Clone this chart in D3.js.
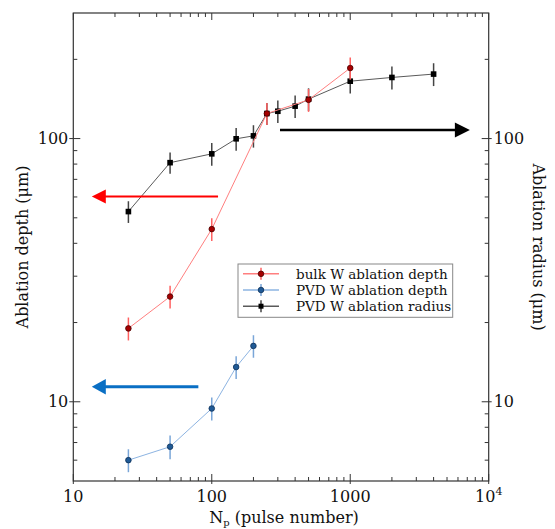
<!DOCTYPE html>
<html>
<head>
<meta charset="utf-8">
<script src="https://cdn.jsdelivr.net/npm/d3@7"></script>
<style>
  html, body { margin: 0; padding: 0; background: #fff; }
  svg { display: block; }
  text { font-family: "DejaVu Serif", serif; fill: #111; }
</style>
</head>
<body>
<div id="chart"></div>
<script>
// ---------- data ----------
const bulkX = [25, 50, 100, 250, 500, 1000];
const bulkDepth = [19.0, 25.1, 45.3, 124.5, 140.3, 185.4];
const bulkErr = [1.9, 2.5, 4.5, 12, 14, 18];

const pvdX = [25, 50, 100, 150, 200];
const pvdDepth = [6.0, 6.75, 9.43, 13.55, 16.3];
const pvdErr = [0.6, 0.7, 0.95, 1.35, 1.6];

const radX = [25, 50, 100, 150, 200, 250, 300, 400, 500, 1000, 2000, 4000];
const radius = [52.8, 81, 87.5, 99.8, 102.4, 124.5, 127, 132.8, 141.2, 165.2, 170.7, 175.8];
const radErr = [5, 7.5, 8.6, 10, 10, 12, 12.5, 13, 14, 17, 17, 17.5];

const legendLabels = ["bulk W ablation depth", "PVD W ablation depth", "PVD W ablation radius"];
const xTickValues = [10, 100, 1000, 10000];
const yTickValues = [10, 100];

// arrows: [x0, x1, y] in data units (start -> tip)
const arrowRed = [111, 13.6, 60.2];
const arrowBlue = [80, 13.6, 11.4];
const arrowBlack = [311, 7310, 107.9];

// ---------- layout ----------
const W = 555, H = 529;
const margin = { left: 73.3, right: 66.3, top: 13, bottom: 48 };
const x = d3.scaleLog().domain([10, 10000]).range([margin.left, W - margin.right]);
const y = d3.scaleLog().domain([5, 300]).range([H - margin.bottom, margin.top]);
const y2 = d3.scaleLog().domain([5, 300]).range([H - margin.bottom, margin.top]);

const svg = d3.select("#chart").append("svg").attr("width", W).attr("height", H);

const x0 = margin.left, x1 = W - margin.right, yT = margin.top, yB = H - margin.bottom;

// minor ticks
const xMinor = [];
for (let d = 10; d < 10000; d *= 10) for (let k = 2; k <= 9; k++) xMinor.push(d * k);
const yMinor = [];
for (let d = 1; d < 1000; d *= 10) for (let k = 2; k <= 9; k++) { const v = d * k; if (v > 5 && v < 300) yMinor.push(v); }

const tickCol = "#333";
const tg = svg.append("g").attr("stroke", tickCol).attr("stroke-width", 1);
xMinor.forEach(v => {
  tg.append("line").attr("x1", x(v)).attr("x2", x(v)).attr("y1", yB).attr("y2", yB - 4);
  tg.append("line").attr("x1", x(v)).attr("x2", x(v)).attr("y1", yT).attr("y2", yT + 4);
});
xTickValues.forEach(v => {
  tg.append("line").attr("x1", x(v)).attr("x2", x(v)).attr("y1", yB + 3).attr("y2", yB - 7);
  tg.append("line").attr("x1", x(v)).attr("x2", x(v)).attr("y1", yT).attr("y2", yT + 7);
});
yMinor.forEach(v => {
  tg.append("line").attr("x1", x0).attr("x2", x0 + 4).attr("y1", y(v)).attr("y2", y(v));
  tg.append("line").attr("x1", x1).attr("x2", x1 - 4).attr("y1", y2(v)).attr("y2", y2(v));
});
yTickValues.forEach(v => {
  tg.append("line").attr("x1", x0 - 4).attr("x2", x0 + 7).attr("y1", y(v)).attr("y2", y(v));
  tg.append("line").attr("x1", x1 + 3).attr("x2", x1 - 7).attr("y1", y2(v)).attr("y2", y2(v));
});

// frame
svg.append("rect").attr("x", x0).attr("y", yT).attr("width", x1 - x0).attr("height", yB - yT)
  .attr("fill", "none").attr("stroke", tickCol).attr("stroke-width", 1.2);

// tick labels
const fs = 16;
xTickValues.forEach(v => {
  const t = svg.append("text").attr("x", x(v)).attr("y", yB + 21).attr("text-anchor", "middle").attr("font-size", fs);
  if (v === 10000) {
    t.append("tspan").text("10");
    t.append("tspan").attr("dy", -7).attr("font-size", 11).text("4");
  } else t.text(d3.format("d")(v));
});
yTickValues.forEach(v => {
  svg.append("text").attr("x", x0 - 5).attr("y", y(v)).attr("dy", "0.35em").attr("text-anchor", "end").attr("font-size", fs).text(v);
  svg.append("text").attr("x", x1 + 5).attr("y", y2(v)).attr("dy", "0.35em").attr("text-anchor", "start").attr("font-size", fs).text(v);
});

// axis labels
const xl = svg.append("text").attr("x", (x0 + x1) / 2 + 3).attr("y", 523).attr("text-anchor", "middle").attr("font-size", fs);
xl.append("tspan").text("N");
xl.append("tspan").attr("dy", 3).attr("font-size", 10).text("p");
xl.append("tspan").attr("dy", -3).text(" (pulse number)");

svg.append("text").attr("transform", `translate(28,${(yT + yB) / 2}) rotate(-90)`)
  .attr("text-anchor", "middle").attr("font-size", fs).text("Ablation depth (μm)");
svg.append("text").attr("transform", `translate(533,${(yT + yB) / 2}) rotate(90)`)
  .attr("text-anchor", "middle").attr("font-size", fs).text("Ablation radius (μm)");

// ---------- series ----------
function series(xs, ys, es, ysc, lineCol, errCol, marker) {
  const g = svg.append("g");
  const pts = xs.map((v, i) => [x(v), ysc(ys[i])]);
  g.append("path").attr("d", d3.line()(pts)).attr("fill", "none").attr("stroke", lineCol).attr("stroke-width", 1);
  xs.forEach((v, i) => {
    g.append("line").attr("x1", x(v)).attr("x2", x(v))
      .attr("y1", ysc(ys[i] + es[i])).attr("y2", ysc(ys[i] - es[i]))
      .attr("stroke", errCol).attr("stroke-width", 1.5);
  });
  xs.forEach((v, i) => marker(g, x(v), ysc(ys[i])));
}
const sq = (g, cx, cy) => g.append("rect").attr("x", cx - 2.8).attr("y", cy - 2.8).attr("width", 5.6).attr("height", 5.6).attr("fill", "#000");
const circR = (g, cx, cy) => g.append("circle").attr("cx", cx).attr("cy", cy).attr("r", 2.8).attr("fill", "#a50000").attr("stroke", "#4a0000").attr("stroke-width", 0.8);
const circB = (g, cx, cy) => g.append("circle").attr("cx", cx).attr("cy", cy).attr("r", 2.8).attr("fill", "#1f5a96").attr("stroke", "#0c3058").attr("stroke-width", 0.8);

series(radX, radius, radErr, y2, "#5a5a5a", "#444", sq);
series(bulkX, bulkDepth, bulkErr, y, "#ff7f7f", "#ff6060", circR);
series(pvdX, pvdDepth, pvdErr, y, "#8db4e2", "#7aa6d8", circB);

// ---------- arrows ----------
function arrow(a, ysc, col, sw, hl, hw) {
  const xs = x(a[0]), xt = x(a[1]), yy = ysc(a[2]);
  const dir = Math.sign(xt - xs);
  svg.append("line").attr("x1", xs).attr("x2", xt - dir * hl * 0.8).attr("y1", yy).attr("y2", yy)
    .attr("stroke", col).attr("stroke-width", sw);
  svg.append("path").attr("d", `M${xt},${yy} L${xt - dir * hl},${yy - hw} L${xt - dir * hl},${yy + hw} Z`).attr("fill", col);
}
arrow(arrowRed, y, "#ff0000", 2, 14, 7);
arrow(arrowBlue, y, "#0a6fc4", 3, 14, 7.8);
arrow(arrowBlack, y2, "#000", 2.5, 15, 7.5);

// ---------- legend ----------
const lg = svg.append("g");
lg.append("rect").attr("x", 238).attr("y", 264).attr("width", 214.7).attr("height", 53.3)
  .attr("fill", "#fff").attr("stroke", "#888").attr("stroke-width", 1);
const legCols = [["#ff7f7f", "#ff6060", circR], ["#8db4e2", "#7aa6d8", circB], ["#5a5a5a", "#444", sq]];
legendLabels.forEach((lab, i) => {
  const cy = 273.8 + i * 16.2;
  const [lc, ec, mk] = legCols[i];
  lg.append("line").attr("x1", 243).attr("x2", 279).attr("y1", cy).attr("y2", cy).attr("stroke", lc).attr("stroke-width", 1.5);
  lg.append("line").attr("x1", 261).attr("x2", 261).attr("y1", cy - 6).attr("y2", cy + 6).attr("stroke", ec).attr("stroke-width", 1.5);
  if (i === 2) lg.append("rect").attr("x", 258.5).attr("y", cy - 2.5).attr("width", 5).attr("height", 5).attr("fill", "#000");
  else mk(lg, 261, cy);
  lg.append("text").attr("x", 296).attr("y", cy).attr("dy", "0.35em").attr("font-size", 13.5).text(lab);
});
</script>
</body>
</html>
